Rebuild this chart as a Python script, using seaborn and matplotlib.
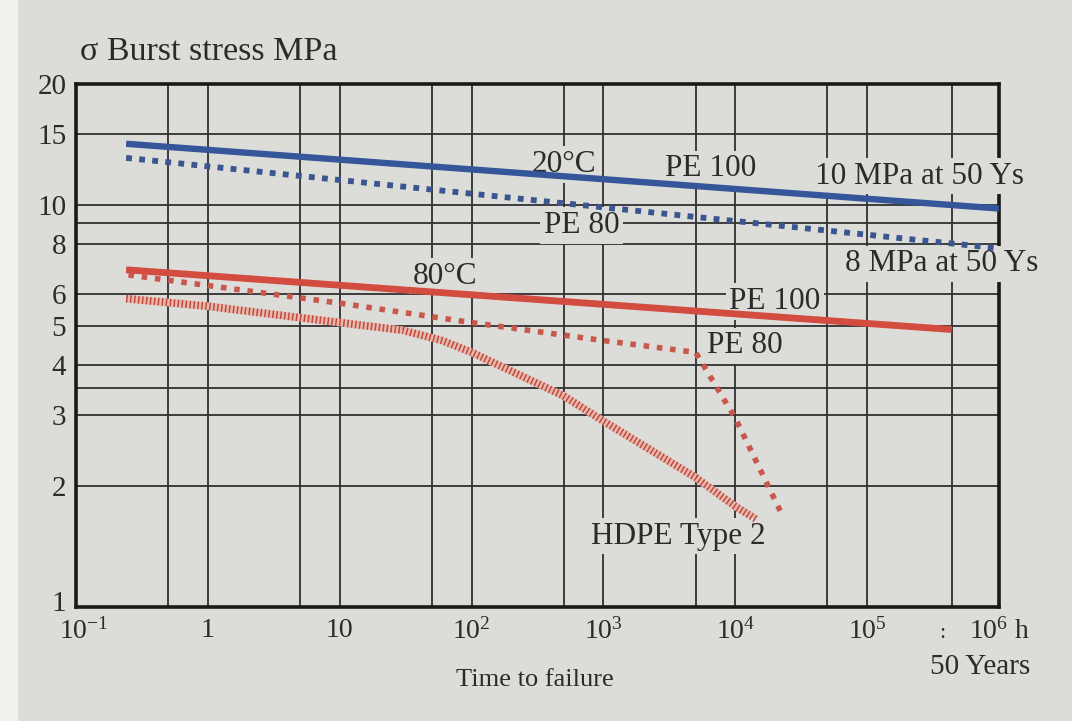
import numpy as np
import pandas as pd
import matplotlib
matplotlib.use("Agg")
import matplotlib.pyplot as plt
import seaborn as sns
from matplotlib.ticker import FixedLocator, FixedFormatter, NullFormatter
from matplotlib.patches import Rectangle
from matplotlib.transforms import ScaledTranslation

# ---------------- data ----------------
hours_pe100_20 = [0.24, 1e6]
stress_pe100_20 = [14.2, 9.8]

hours_pe80_20 = [0.24, 1e6]
stress_pe80_20 = [13.1, 7.8]

hours_pe100_80 = [0.24, 4.38e5]
stress_pe100_80 = [6.9, 4.9]

hours_pe80_80 = [0.25, 10, 100, 1000, 5000, 1e4, 2.2e4]
stress_pe80_80 = [6.7, 5.7, 5.1, 4.6, 4.3, 2.95, 1.73]

hours_hdpe = [0.24, 1, 10, 30, 60, 100, 500, 1000, 5000, 1e4, 1.45e4]
stress_hdpe = [5.85, 5.6, 5.1, 4.88, 4.6, 4.3, 3.35, 2.9, 2.1, 1.78, 1.65]

x_major = [0.1, 1, 10, 100, 1e3, 1e4, 1e5, 1e6]
x_labels = ["$10^{-1}$", "1", "10", "$10^{2}$", "$10^{3}$", "$10^{4}$", "$10^{5}$", "$10^{6}$ h"]
x_minor = [0.5, 5, 50, 500, 5e3, 5e4, 4.38e5]
y_major = [1, 2, 3, 4, 5, 6, 8, 10, 15, 20]
y_labels = ["1", "2", "3", "4", "5", "6", "8", "10", "15", "20"]
y_minor = [3.5, 9]

# curve labels: text, hours, MPa
annotations = [
    ("20°C", 500, 12.6), ("PE 100", 6500, 12.3), ("10 MPa at 50 Ys", 2.5e5, 11.8),
    ("PE 80", 680, 8.9), ("80°C", 63, 6.65), ("8 MPa at 50 Ys", 3.7e5, 7.14),
    ("PE 100", 2.0e4, 5.76), ("PE 80", 1.18e4, 4.46), ("HDPE Type 2", 3700, 1.5),
]

# ---------------- style ----------------
BG = "#dcdcd8"
INK = "#2b2b2b"
sns.set_theme(style="white")
plt.rcParams["font.family"] = ["Liberation Serif", "DejaVu Serif"]
plt.rcParams["mathtext.fontset"] = "custom"
plt.rcParams["mathtext.rm"] = "Liberation Serif"
plt.rcParams["mathtext.it"] = "Liberation Serif:italic"
plt.rcParams["mathtext.bf"] = "Liberation Serif:bold"

W, H = 1072, 721
fig = plt.figure(figsize=(W / 100, H / 100), dpi=100, facecolor=BG)
fig.patches.append(Rectangle((0, 0), 18 / W, 1, transform=fig.transFigure,
                             facecolor="#f1f1ec", edgecolor="none", zorder=-5))

def fx(x):
    return x / W

def fy(y):
    return 1 - y / H

ax = fig.add_axes([fx(76), fy(607), (999 - 76) / W, (607 - 84) / H])
ax.set_facecolor(BG)
ax.set_xscale("log")
ax.set_yscale("log")
ax.set_xlim(0.1, 1e6)
ax.set_ylim(1, 20)

# grid
ax.xaxis.set_major_locator(FixedLocator(x_major))
ax.xaxis.set_major_formatter(FixedFormatter(x_labels))
ax.xaxis.set_minor_locator(FixedLocator(x_minor))
ax.xaxis.set_minor_formatter(NullFormatter())
ax.yaxis.set_major_locator(FixedLocator(y_major))
ax.yaxis.set_major_formatter(FixedFormatter(y_labels))
ax.yaxis.set_minor_locator(FixedLocator(y_minor))
ax.yaxis.set_minor_formatter(NullFormatter())
ax.grid(True, which="both", color="#303030", linewidth=1.3, zorder=0)
ax.set_axisbelow(True)
ax.tick_params(axis="both", which="both", length=0)
ax.tick_params(axis="x", labelsize=20, pad=8, labelcolor=INK)
ax.tick_params(axis="y", labelsize=21, pad=7, labelcolor=INK)
for s in ax.spines.values():
    s.set_visible(True)
    s.set_color("#1a1a1a")
    s.set_linewidth(2.6)

# ---------------- curves ----------------
BLUE = "#36569a"
RED = "#d34c40"

sns.lineplot(x=hours_pe100_20, y=stress_pe100_20, ax=ax, color=BLUE, linewidth=4.6,
             estimator=None, sort=False, solid_capstyle="butt", zorder=4)
sns.lineplot(x=hours_pe80_20, y=stress_pe80_20, ax=ax, color="#3a5590", linewidth=4.2,
             linestyle=(0, (1, 1.25)), estimator=None, sort=False, zorder=4)
sns.lineplot(x=hours_pe100_80, y=stress_pe100_80, ax=ax, color=RED, linewidth=4.9,
             estimator=None, sort=False, solid_capstyle="butt", zorder=4)
sns.lineplot(x=hours_pe80_80, y=stress_pe80_80, ax=ax, color="#c8574c", linewidth=4.0,
             linestyle=(0, (1, 1.4)), estimator=None, sort=False, zorder=4)
sns.lineplot(x=hours_hdpe, y=stress_hdpe, ax=ax, color="#e9b9ad", linewidth=5.5,
             estimator=None, sort=False, solid_capstyle="butt", zorder=3)
sns.lineplot(x=hours_hdpe, y=stress_hdpe, ax=ax, color="#bf4a40", linewidth=5.5,
             linestyle=(0, (0.2, 0.32)), estimator=None, sort=False, zorder=4)
ax.set_xlabel("")
ax.set_ylabel("")

# nudge the corner tick labels apart, as in the reference
xl0 = ax.get_xticklabels()[0]
xl0.set_transform(xl0.get_transform() + ScaledTranslation(8 / 100, 0, fig.dpi_scale_trans))
yl0 = ax.get_yticklabels()[0]
yl0.set_transform(yl0.get_transform() + ScaledTranslation(0, 6 / 100, fig.dpi_scale_trans))

# ---------------- texts ----------------
for txt, hx, sy in annotations:
    ax.text(hx, sy, txt, ha="center", va="center", fontsize=22.5, color=INK,
            zorder=3.5, clip_on=False,
            bbox=dict(boxstyle="square,pad=0.12", facecolor=BG, edgecolor="none"))

fig.text(fx(80), fy(52), "σ Burst stress MPa", ha="left", va="center", fontsize=24.5, color=INK)
fig.text(fx(535), fy(680), "Time to failure", ha="center", va="center", fontsize=19, color=INK)
fig.text(fx(980), fy(667), "50 Years", ha="center", va="center", fontsize=21, color=INK)
fig.text(fx(942), fy(634), ":", ha="center", va="center", fontsize=16, color=INK)

fig.savefig("out.png", dpi=100, facecolor=BG)
